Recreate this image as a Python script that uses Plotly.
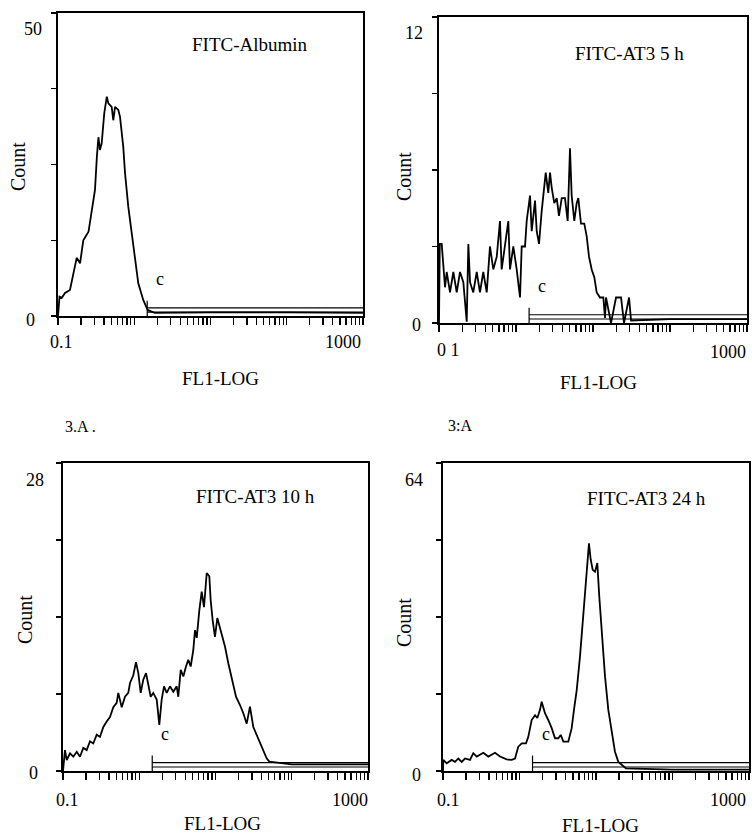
import numpy as np
import plotly.graph_objects as go

# ---------------- data (FL1 as log10 decades, counts) ----------------
p1_log = [-1.0, -0.98, -0.95, -0.908, -0.843, -0.80, -0.755, -0.711, -0.668, -0.60, -0.558, -0.515,
          -0.49, -0.47, -0.45, -0.427, -0.393, -0.36, -0.34, -0.296, -0.275, -0.252, -0.209, -0.187,
          -0.144, -0.121, -0.078, -0.033, 0.01, 0.053, 0.119, 0.176, 0.272, 1.0, 2.0, 3.0]
p1_cnt = [0, 3.2, 3.0, 3.8, 4.3, 7.1, 9.6, 8.7, 12.5, 13.9, 17.0, 20.8,
          26.3, 29.5, 27.4, 28.5, 33.5, 36.2, 35.1, 34.5, 32.3, 34.5, 34.0, 32.9,
          27.9, 23.6, 18.0, 13.7, 9.2, 5.4, 2.6, 1.0, 0.5, 0.6, 0.6, 0.5]

p2_log = [-1.0, -0.99, -0.965, -0.922, -0.90, -0.857, -0.814, -0.77, -0.727, -0.684, -0.64, -0.619,
          -0.597, -0.555, -0.51, -0.468, -0.425, -0.38, -0.338, -0.295, -0.25, -0.208, -0.186, -0.143,
          -0.10, -0.078, -0.035, 0.009, 0.052, 0.074, 0.117, 0.139, 0.182, 0.204, 0.247, 0.269,
          0.299, 0.334, 0.355, 0.386, 0.419, 0.442, 0.464, 0.497, 0.529, 0.558, 0.594, 0.636,
          0.671, 0.701, 0.723, 0.757, 0.788, 0.809, 0.844, 0.887, 0.918, 0.948, 0.983, 1.017,
          1.048, 1.091, 1.134, 1.156, 1.169, 1.234, 1.299, 1.364, 1.403, 1.468, 1.494, 2.0, 3.0]
p2_cnt = [0, 3.1, 3.1, 1.4, 2.0, 1.2, 2.0, 1.2, 2.0, 1.6, 0.05, 3.1,
          1.6, 1.2, 2.0, 1.2, 2.0, 1.2, 3.0, 2.1, 2.6, 4.0, 2.1, 3.0,
          4.0, 2.1, 3.0, 2.1, 1.0, 3.0, 3.0, 4.0, 5.0, 3.6, 4.8, 3.6,
          3.1, 4.4, 5.0, 5.9, 5.1, 5.9, 5.3, 4.7, 4.9, 4.2, 4.9, 4.9,
          4.0, 6.85, 5.0, 4.0, 4.7, 4.9, 3.9, 3.9, 3.4, 2.6, 2.1, 1.8,
          1.2, 1.0, 1.0, 0.2, 1.0, 0.0, 1.0, 1.0, 0.0, 1.0, 0.1, 0.15, 0.15]

p3_log = [-1.0, -0.974, -0.951, -0.908, -0.865, -0.82, -0.777, -0.734, -0.689, -0.646, -0.603, -0.558,
          -0.515, -0.471, -0.427, -0.384, -0.340, -0.296, -0.275, -0.230, -0.187, -0.144, -0.121, -0.078,
          -0.043, -0.012, 0.019, 0.053, 0.089, 0.119, 0.150, 0.184, 0.229, 0.263, 0.294, 0.325,
          0.360, 0.403, 0.447, 0.491, 0.512, 0.544, 0.578, 0.613, 0.643, 0.675, 0.709, 0.731,
          0.754, 0.788, 0.819, 0.849, 0.885, 0.919, 0.937, 0.963, 0.993, 1.024, 1.059, 1.094,
          1.125, 1.168, 1.199, 1.233, 1.269, 1.321, 1.365, 1.409, 1.452, 1.496, 1.540, 1.584,
          1.627, 1.671, 1.705, 2.0, 3.0]
p3_cnt = [0, 1.9, 1.0, 1.6, 1.3, 1.75, 1.3, 2.1, 1.9, 2.7, 2.5, 3.3,
          3.1, 4.0, 4.5, 4.9, 5.8, 6.2, 7.1, 5.8, 6.75, 7.1, 8.0, 8.7,
          9.9, 8.9, 7.1, 8.3, 8.9, 7.7, 6.75, 7.1, 6.5, 4.2, 6.5, 7.7,
          7.1, 7.7, 7.2, 7.7, 6.75, 9.2, 8.6, 9.5, 10.1, 9.5, 11.0, 12.8,
          12.1, 14.6, 16.3, 14.9, 18.0, 17.7, 15.5, 13.7, 12.2, 13.9, 13.0, 12.2,
          11.3, 9.8, 8.9, 8.0, 6.75, 6.0, 5.25, 4.3, 5.85, 4.0, 3.3, 2.7,
          1.9, 1.15, 0.85, 0.6, 0.6]

p4_log = [-1.0, -0.996, -0.952, -0.886, -0.843, -0.80, -0.756, -0.712, -0.647, -0.604, -0.559, -0.473,
          -0.408, -0.320, -0.255, -0.167, -0.102, -0.059, -0.016, 0.029, 0.085, 0.115, 0.159, 0.203,
          0.233, 0.268, 0.290, 0.333, 0.376, 0.421, 0.464, 0.507, 0.539, 0.573, 0.638, 0.682,
          0.712, 0.748, 0.791, 0.826, 0.856, 0.878, 0.908, 0.931, 0.957, 0.987, 1.017, 1.043,
          1.075, 1.118, 1.161, 1.205, 1.248, 1.292, 1.392, 2.0, 3.0]
p4_cnt = [0, 2.3, 1.6, 2.3, 1.9, 2.6, 1.9, 2.6, 2.3, 3.7, 3.0, 3.8,
          3.0, 3.8, 3.0, 2.4, 2.3, 2.6, 5.05, 5.75, 5.75, 7.1, 10.6, 11.6,
          11.0, 12.7, 14.4, 12.0, 10.6, 8.9, 6.8, 6.8, 7.5, 6.1, 6.1, 8.9,
          12.7, 16.8, 23.8, 30.7, 36.2, 40.1, 47.3, 43.9, 41.8, 41.4, 43.2, 36.2,
          29.3, 19.6, 12.7, 8.5, 4.0, 1.9, 0.55, 0.3, 0.3]

titles = ["FITC-Albumin", "FITC-AT3 5 h", "FITC-AT3 10 h", "FITC-AT3 24 h"]
y_max = [50, 12, 28, 64]
x_min_label = ["0.1", "0 1", "0.1", "0.1"]
x_max_label = "1000"
x_title = "FL1-LOG"
y_title = "Count"
gate_start = 1.48   # FL1 value where gate "c" begins
gate_end = 1000
gate_label = "c"
panel_tags = ["3.A .", "3:A"]

# ---------------- layout helpers ----------------
W, H = 752, 835
FONT = "Liberation Serif, Times New Roman, serif"

def px(x):
    return x / W

def py(y):
    return 1 - y / H

# plot frames in pixels: (left, right, top, bottom)
frames = [(58, 363, 13, 316), (439, 747, 17, 323), (63, 368, 463, 771), (443, 749, 463, 771)]

logs = [p1_log, p2_log, p3_log, p4_log]
cnts = [p1_cnt, p2_cnt, p3_cnt, p4_cnt]

minor_vals = [m * 10.0 ** k for k in range(-1, 3) for m in range(1, 10)] + [1000]

fig = go.Figure()
annotations = []

for i in range(4):
    ax = "" if i == 0 else str(i + 1)
    xref, yref = "x" + ax, "y" + ax
    l, r, t, b = frames[i]
    ym = y_max[i]

    # histogram line
    fig.add_trace(go.Scatter(x=np.power(10.0, logs[i]), y=cnts[i], mode="lines",
                             line=dict(color="black", width=1.8), xaxis=xref, yaxis=yref,
                             hoverinfo="skip", showlegend=False))
    # gate marker: start tick + thin double bar
    fig.add_trace(go.Scatter(
        x=[gate_start, gate_start, None, gate_start, gate_end, None, gate_start, gate_end],
        y=[0, 0.05 * ym, None, 0.027 * ym, 0.027 * ym, None, 0.013 * ym, 0.013 * ym],
        mode="lines", line=dict(color="black", width=1.2),
        xaxis=xref, yaxis=yref, hoverinfo="skip", showlegend=False))

    xa = dict(type="log", range=[-1, 3], domain=[px(l), px(r)], anchor=yref,
              showline=True, linecolor="black", linewidth=2, mirror=True,
              ticks="outside", ticklen=7, tickwidth=1.3, tickcolor="black",
              tickvals=minor_vals, showticklabels=False, showgrid=False, zeroline=False)
    ya = dict(range=[0, ym], domain=[py(b), py(t)], anchor=xref,
              showline=True, linecolor="black", linewidth=2, mirror=True,
              ticks="outside", ticklen=5, tickwidth=1.3, tickcolor="black",
              tickvals=[0, ym / 4, ym / 2, 3 * ym / 4, ym], showticklabels=False,
              showgrid=False, zeroline=False)
    fig.update_layout(**{"xaxis" + ax: xa, "yaxis" + ax: ya})

    # gate label "c"
    annotations.append(dict(x=np.log10(gate_start), y=0, xref=xref, yref=yref + " domain",
                            text=gate_label, showarrow=False, xshift=13, yshift=25,
                            font=dict(family=FONT, size=18, color="black")))

def label(x, y, text, size=19, angle=0):
    annotations.append(dict(x=px(x), y=py(y), xref="paper", yref="paper", text=text,
                            showarrow=False, textangle=angle, xanchor="center", yanchor="middle",
                            font=dict(family=FONT, size=size, color="black")))

# titles
label(250, 45, titles[0]); label(629, 53, titles[1])
label(255, 497, titles[2]); label(646, 498, titles[3])
# y tick labels
label(33, 29, str(y_max[0]), 18); label(31, 320, "0", 18)
label(414, 33, str(y_max[1]), 18); label(416, 325, "0", 18)
label(35, 480, str(y_max[2]), 18); label(33, 773, "0", 18)
label(414, 480, str(y_max[3]), 18); label(416, 775, "0", 18)
# x tick labels
label(62, 342, x_min_label[0], 18); label(343, 342, x_max_label, 18)
label(448, 350, x_min_label[1], 18); label(728, 352, x_max_label, 18)
label(67, 800, x_min_label[2], 18); label(350, 800, x_max_label, 18)
label(449, 800, x_min_label[3], 18); label(728, 800, x_max_label, 18)
# axis titles
label(220, 378, x_title); label(598, 382, x_title)
label(222, 823, x_title); label(600, 825, x_title)
label(18, 167, y_title, 20, -90); label(404, 177, y_title, 20, -90)
label(25, 620, y_title, 20, -90); label(404, 623, y_title, 20, -90)
# panel tags
label(80, 426, panel_tags[0], 16); label(460, 425, panel_tags[1], 16)

fig.update_layout(width=W, height=H, margin=dict(l=0, r=0, t=0, b=0),
                  paper_bgcolor="white", plot_bgcolor="white", showlegend=False,
                  annotations=annotations)

# remove the default page margin so the figure sits at the window's top-left corner
fig.write_html("out.html",
               config={"displayModeBar": False, "staticPlot": True},
               post_script="document.body.style.margin='0';"
                           "document.body.style.overflow='hidden';")
